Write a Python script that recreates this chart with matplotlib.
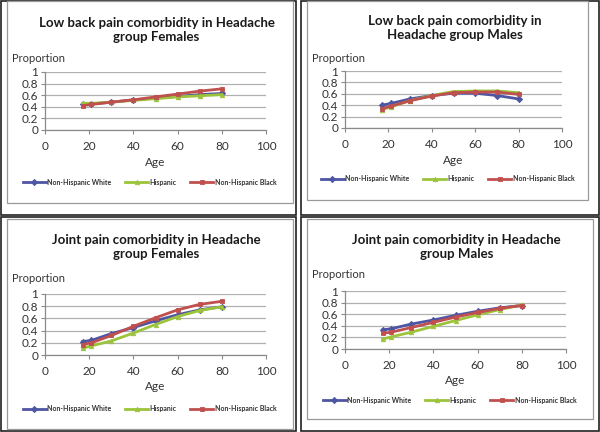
import matplotlib
matplotlib.use('Agg')
import matplotlib.pyplot as plt
from matplotlib.patches import Rectangle

plt.rcParams['font.family'] = ['Lato', 'DejaVu Sans']

AGES = [17, 21, 30, 40, 50, 60, 70, 80]
SERIES = ['Non-Hispanic White', 'Hispanic', 'Non-Hispanic Black']
TITLES = [
    'Low back pain comorbidity in Headache\ngroup Females',
    'Low back pain comorbidity in\nHeadache group Males',
    'Joint pain comorbidity in Headache\ngroup Females',
    'Joint pain comorbidity in Headache\ngroup Males',
]

# values (proportion)
lbp_f_white = [0.44, 0.45, 0.48, 0.52, 0.55, 0.58, 0.61, 0.63]
lbp_f_hisp = [0.46, 0.46, 0.48, 0.51, 0.54, 0.57, 0.59, 0.61]
lbp_f_black = [0.42, 0.44, 0.48, 0.52, 0.57, 0.62, 0.67, 0.71]

lbp_m_white = [0.40, 0.43, 0.51, 0.57, 0.61, 0.61, 0.57, 0.51]
lbp_m_hisp = [0.32, 0.37, 0.48, 0.57, 0.64, 0.65, 0.65, 0.62]
lbp_m_black = [0.34, 0.38, 0.48, 0.56, 0.62, 0.63, 0.63, 0.59]

jp_f_white = [0.22, 0.24, 0.35, 0.45, 0.56, 0.66, 0.74, 0.79]
jp_f_hisp = [0.11, 0.15, 0.23, 0.36, 0.50, 0.63, 0.73, 0.79]
jp_f_black = [0.17, 0.20, 0.32, 0.47, 0.61, 0.74, 0.83, 0.88]

jp_m_white = [0.33, 0.35, 0.43, 0.50, 0.58, 0.65, 0.71, 0.75]
jp_m_hisp = [0.17, 0.21, 0.29, 0.39, 0.49, 0.59, 0.68, 0.76]
jp_m_black = [0.27, 0.29, 0.37, 0.46, 0.55, 0.63, 0.70, 0.75]

PANELS = [
    (lbp_f_white, lbp_f_hisp, lbp_f_black),
    (lbp_m_white, lbp_m_hisp, lbp_m_black),
    (jp_f_white, jp_f_hisp, jp_f_black),
    (jp_m_white, jp_m_hisp, jp_m_black),
]

COLORS = ['#4E55A3', '#9CC43A', '#C0504D']
MARKERS = ['D', '^', 's']

W, H = 600, 432
# pixel layout per panel: x of age 0, x of age 100, y of 0, y of 1,
# title line centre y, "Proportion" y, "Age" y, legend y, chart box
LAYOUT = [
    dict(x0=45, x1=266, y0=130, y1=72, ty=30, py=58, ay=162, ly=182, box=(7, 1, 293, 203)),
    dict(x0=345, x1=562, y0=128, y1=71, ty=28, py=59, ay=160, ly=179, box=(307, 1, 588, 200)),
    dict(x0=45, x1=266, y0=355, y1=294, ty=247, py=279, ay=387, ly=409, box=(7, 219, 293, 429)),
    dict(x0=345, x1=566, y0=349, y1=291, ty=247, py=275, ay=380, ly=400, box=(307, 219, 593, 419)),
]
CELLS = [(0, 0, 297, 216), (300, 0, 600, 216), (0, 216, 297, 432), (300, 216, 600, 432)]

fig = plt.figure(figsize=(W / 100, H / 100), dpi=100)
fig.patch.set_facecolor('white')


def fx(px):
    return px / W


def fy(py):
    return 1 - py / H


for (cx0, cy0, cx1, cy1) in CELLS:
    fig.add_artist(Rectangle((fx(cx0) + 0.001, fy(cy1) + 0.002), fx(cx1 - cx0) - 0.003,
                             (cy1 - cy0) / H - 0.004, transform=fig.transFigure,
                             fill=False, edgecolor='#202020', linewidth=1.2))

for i, (vals, lay) in enumerate(zip(PANELS, LAYOUT)):
    bx0, by0, bx1, by1 = lay['box']
    fig.add_artist(Rectangle((fx(bx0), fy(by1)), fx(bx1 - bx0), (by1 - by0) / H,
                             transform=fig.transFigure, fill=False,
                             edgecolor='#9a9a9a', linewidth=0.9))

    ax = fig.add_axes([fx(lay['x0']), fy(lay['y0']), fx(lay['x1'] - lay['x0']),
                       (lay['y0'] - lay['y1']) / H])
    for ys, name, c, m in zip(vals, SERIES, COLORS, MARKERS):
        ax.plot(AGES, ys, color=c, marker=m, markersize=3.2, linewidth=2.0,
                label=name, markeredgewidth=0.6)
    ax.set_xlim(0, 100)
    ax.set_ylim(0, 1)
    ax.set_xticks(range(0, 101, 20))
    ax.set_yticks([0, 0.2, 0.4, 0.6, 0.8, 1.0])
    ax.set_yticklabels(['0', '0.2', '0.4', '0.6', '0.8', '1'])
    ax.yaxis.grid(True, color='#b0b0b0', linewidth=0.9)
    ax.set_axisbelow(True)
    for s in ('top', 'right'):
        ax.spines[s].set_visible(False)
    for s in ('left', 'bottom'):
        ax.spines[s].set_color('#8a8a8a')
        ax.spines[s].set_linewidth(0.9)
    ax.tick_params(axis='both', colors='#8a8a8a', labelcolor='#333333',
                   labelsize=8.5, length=3, width=0.8, pad=2)
    ax.tick_params(axis='x', pad=5)

    cxm = (lay['x0'] + lay['x1']) / 2
    fig.text(fx(cxm + 1), fy(lay['ty']), TITLES[i], ha='center', va='center',
             fontsize=9.5, fontweight='bold', color='#1a1a1a', linespacing=1.25)
    fig.text(fx(lay['x0'] - 33), fy(lay['py']), 'Proportion', ha='left', va='center',
             fontsize=8, color='#333333')
    fig.text(fx(cxm), fy(lay['ay']), 'Age', ha='center', va='center',
             fontsize=8.5, color='#333333')
    leg = fig.legend(*ax.get_legend_handles_labels(), loc='center',
                     bbox_to_anchor=(fx(cxm - 6), fy(lay['ly'])), ncol=3, frameon=False,
                     fontsize=5, handlelength=3.3, handletextpad=0.2, columnspacing=2.0,
                     borderaxespad=0, borderpad=0)
    for t in leg.get_texts():
        t.set_fontweight('bold')
        t.set_color('#333333')

fig.savefig('out.png', dpi=100, facecolor='white')
